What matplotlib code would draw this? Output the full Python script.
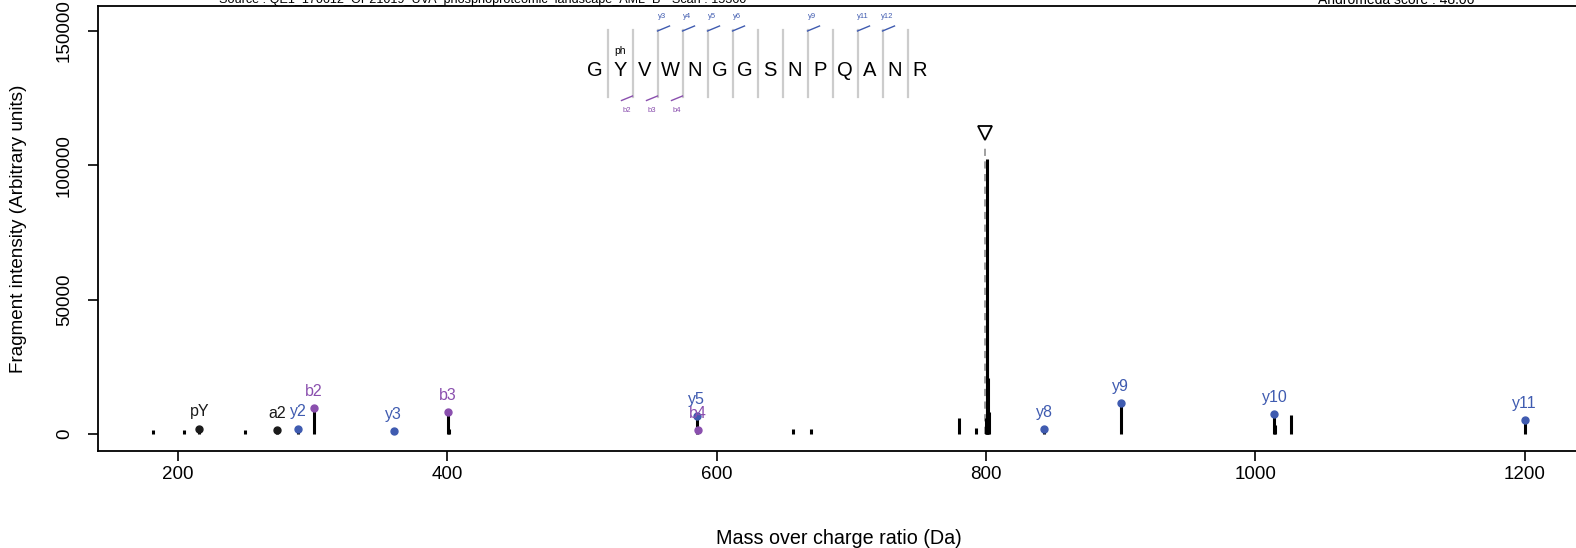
import numpy as np
import matplotlib
matplotlib.use("Agg")
import matplotlib.pyplot as plt

plt.rcParams['font.family'] = ['Liberation Sans', 'DejaVu Sans']

#------------------Spectrum peaks (m/z, intensity)------------------
peak_mz = [181.2, 204.5, 215.8, 249.5, 273.3, 289.3, 301.0, 360.1, 400.2, 401.0,
           585.4, 656.3, 670.2, 779.8, 792.6, 799.8, 800.3, 800.8, 801.3, 801.8,
           843.2, 899.9, 1014.1, 1014.8, 1026.6, 1199.9]
peak_int = [1500, 1500, 2000, 1500, 1500, 2000, 9600, 1200, 8200, 2000,
            6800, 1800, 1800, 6100, 2200, 6000, 102500, 47000, 21000, 8000,
            1800, 11500, 7500, 3500, 7100, 5300]

#------------------Annotated fragment ions------------------
ion_labels = ["pY", "a2", "y2", "b2", "y3", "b3", "y5", "b4", "y8", "y9", "y10", "y11"]
ion_mz = [215.8, 273.3, 289.3, 301.0, 360.1, 400.2, 585.2, 585.8, 843.2, 899.9, 1014.1, 1199.9]
ion_int = [2000, 1500, 2000, 9600, 1200, 8200, 6800, 1500, 1800, 11500, 7500, 5300]
ion_type = ["other", "other", "y", "b", "y", "b", "y", "b", "y", "y", "y", "y"]

precursor_mz = 799.3
precursor_mark = 112000

#------------------Peptide sequence------------------
sequence = list("GYVWNGGSNPQANR")
y_cuts = [3, 4, 5, 6, 9, 11, 12]
b_cuts = [2, 3, 4]
ptm_pos = 1
ptm_label = "ph"

source_txt = "Source : QE1_170612_OP21019_UVA_phosphoproteomic_landscape_AML_B\"  Scan : 15360"
score_txt = "Andromeda score : 48.06"

colors = {"y": "#3f5bb0", "b": "#8a4fae", "other": "#1a1a1a"}

W, H = 1576, 548
fig = plt.figure(figsize=(W / 100, H / 100), dpi=100)
ax = fig.add_axes([98 / W, 1 - 451 / H, 1 - 98 / W + 0.002, (451 - 6) / H])

#------------------Draw peaks------------------
ax.vlines(peak_mz, 0, peak_int, color="black", lw=2.2, zorder=2)

# precursor
ax.vlines(precursor_mz, 0, precursor_mark - 4500, color="#999999", lw=1.3,
          linestyles=(0, (4, 3)), zorder=1)
ax.plot([precursor_mz], [precursor_mark], marker="v", ms=10, mfc="white",
        mec="black", mew=1.3, zorder=3)

# ion dots and labels
for lab, x, y, t in zip(ion_labels, ion_mz, ion_int, ion_type):
    ax.plot([x], [y], "o", ms=5.0, color=colors[t], zorder=4)
    ax.annotate(lab, (x, y), xytext=(0, 12), textcoords="offset points",
                ha="center", va="center", fontsize=11.5, color=colors[t], zorder=5)

ax.set_xlim(140.6, 1240.3)
ax.set_ylim(-6330, 159300)
ax.set_xticks([200, 400, 600, 800, 1000, 1200])
ax.set_yticks([0, 50000, 100000, 150000])
ax.tick_params(labelsize=13.5, length=7, width=1.2, direction="out")
ax.tick_params(axis="x", pad=4)
ax.tick_params(axis="y", pad=11)
for lbl in ax.get_yticklabels():
    lbl.set_rotation(90)
    lbl.set_va("center")
for s in ax.spines.values():
    s.set_linewidth(1.3)
ax.set_xlabel("Mass over charge ratio (Da)", fontsize=14.2, labelpad=33)
ax.set_ylabel("Fragment intensity (Arbitrary units)", fontsize=13.6, labelpad=21)

#------------------Peptide sequence annotation (figure pixels)------------------
def fx(px):
    return px / W

def fy(py):
    return 1 - py / H

x0, step, ytxt = 595, 25, 70.5
for i, aa in enumerate(sequence):
    fig.text(fx(x0 + i * step), fy(ytxt), aa, ha="center", va="center",
             fontsize=14.5, color="black")
    if i > 0:
        sx = x0 + (i - 0.5) * step
        fig.add_artist(plt.Line2D([fx(sx), fx(sx)], [fy(30), fy(97)],
                                  color="#cccccc", lw=1.6))
fig.text(fx(x0 + ptm_pos * step), fy(51.5), ptm_label, ha="center", va="center",
         fontsize=7.5)

for k in y_cuts:
    sx = x0 + (k - 0.5) * step
    fig.add_artist(plt.Line2D([fx(sx), fx(sx + 12)], [fy(31), fy(26)],
                              color=colors["y"], lw=1))
    fig.text(fx(sx + 5), fy(16.5), "y%d" % k, ha="center", va="center",
             fontsize=5.5, color=colors["y"])
for k in b_cuts:
    sx = x0 + (k - 0.5) * step
    fig.add_artist(plt.Line2D([fx(sx - 11), fx(sx)], [fy(100.5), fy(96)],
                              color=colors["b"], lw=1))
    fig.text(fx(sx - 6), fy(110), "b%d" % k, ha="center", va="center",
             fontsize=5.5, color=colors["b"])

#------------------Header (clipped at top like the original)------------------
fig.text(fx(219), fy(0.5), source_txt, ha="left", va="center", fontsize=9.1)
fig.text(fx(1318), fy(0.5), score_txt, ha="left", va="center", fontsize=10)

fig.savefig("out.png", dpi=100)
